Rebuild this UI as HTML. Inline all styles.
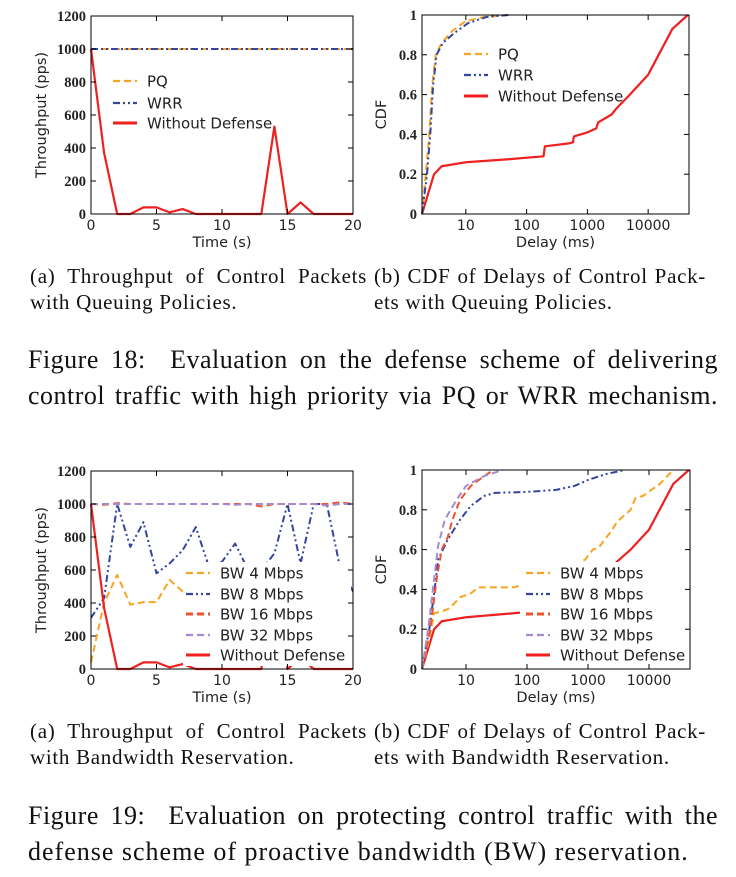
<!DOCTYPE html>
<html><head><meta charset="utf-8">
<style>
body{margin:0;background:#fff;width:736px;height:877px;overflow:hidden;position:relative;font-family:"Liberation Serif",serif;}
svg{position:absolute;left:0;top:0}
.cap{position:absolute;color:#111;font-family:"Liberation Serif",serif;white-space:nowrap}
.j{text-align:justify;text-align-last:justify;white-space:normal}
.sub{font-size:21px;line-height:26px;letter-spacing:0.7px}
.fig{font-size:26px;line-height:36px;left:28px;letter-spacing:0.5px}
</style></head><body>
<svg id="chart" width="736" height="877" xmlns="http://www.w3.org/2000/svg"></svg>
<div class="cap sub" style="left:30px;top:263px;width:337px"><div class="j">(a) Throughput of Control Packets</div><div>with Queuing Policies.</div></div>
<div class="cap sub" style="left:374px;top:263px;width:332px"><div class="j">(b) CDF of Delays of Control Pack-</div><div>ets with Queuing Policies.</div></div>
<div class="cap fig" style="top:342px;width:690px"><div class="j">Figure 18: &nbsp;Evaluation on the defense scheme of delivering</div><div class="j">control traffic with high priority via PQ or WRR mechanism.</div></div>
<div class="cap sub" style="left:30px;top:718px;width:337px"><div class="j">(a) Throughput of Control Packets</div><div>with Bandwidth Reservation.</div></div>
<div class="cap sub" style="left:374px;top:718px;width:332px"><div class="j">(b) CDF of Delays of Control Pack-</div><div>ets with Bandwidth Reservation.</div></div>
<div class="cap fig" style="top:798px;width:690px"><div class="j">Figure 19: &nbsp;Evaluation on protecting control traffic with the</div><div style="letter-spacing:1px">defense scheme of proactive bandwidth (BW) reservation.</div></div>
<script>
const timeSteps=[0,1,2,3,4,5,6,7,8,9,10,11,12,13,14,15,16,17,18,19,20];
const tpPQ=[1000,1000,1000,1000,1000,1000,1000,1000,1000,1000,1000,1000,1000,1000,1000,1000,1000,1000,1000,1000,1000];
const tpWRR=[1000,1000,1000,1000,1000,1000,1000,1000,1000,1000,1000,1000,1000,1000,1000,1000,1000,1000,1000,1000,1000];
const tpNoDef=[1000,370,0,0,40,40,10,30,0,0,0,0,0,0,530,0,70,0,0,0,0];
const tpBW4=[40,400,570,390,405,405,540,470,480,500,500,500,500,500,500,520,520,540,560,600,520];
const tpBW8=[310,430,1000,740,890,580,640,720,860,620,650,760,600,600,700,1000,640,1000,1000,620,470];
const tpBW16=[1000,995,1005,1000,1000,1000,1000,1000,1000,1000,1000,1000,1000,985,1000,1000,1000,1000,1000,1010,1000];
const tpBW32=[1000,1000,1000,1000,1000,1000,1000,1000,1000,1000,1000,995,1000,1000,1000,1000,1000,1000,990,1000,1000];

const cdfPQx=[1.9,2.2,2.5,2.8,3.2,4,6,10,20,50];
const cdfPQy=[0,0.2,0.4,0.65,0.8,0.86,0.92,0.97,0.99,1];
const cdfWRRx=[1.9,2.3,2.6,2.9,3.3,4.2,6.5,11,22,50];
const cdfWRRy=[0,0.2,0.4,0.65,0.8,0.86,0.91,0.96,0.99,1];
const cdfNDx=[1.9,3,4,10,50,190,200,500,580,600,1000,1400,1500,2500,3000,5000,10000,25000,45000];
const cdfNDy=[0,0.2,0.24,0.26,0.275,0.29,0.34,0.355,0.36,0.39,0.41,0.43,0.46,0.5,0.53,0.6,0.7,0.93,1];

const cdfBW4x=[1.9,2.5,3,4,5,6,8,12,16,60,300,900,1200,1500,2500,3000,5000,6000,8000,15000,25000];
const cdfBW4y=[0,0.15,0.28,0.29,0.3,0.32,0.36,0.38,0.41,0.41,0.47,0.55,0.6,0.61,0.7,0.74,0.8,0.86,0.87,0.93,1];
const cdfBW8x=[1.9,2.5,3,3.5,5,8,12,20,30,100,300,600,1000,2000,4000];
const cdfBW8y=[0,0.2,0.38,0.55,0.65,0.75,0.82,0.87,0.885,0.89,0.9,0.92,0.95,0.98,1];
const cdfBW16x=[1.9,2.6,3.3,4,5,6,8,12,20,28];
const cdfBW16y=[0,0.2,0.45,0.6,0.66,0.75,0.85,0.92,0.97,1];
const cdfBW32x=[1.9,2.4,3,3.5,4.5,7,10,20,40];
const cdfBW32y=[0,0.2,0.45,0.62,0.75,0.85,0.92,0.97,1];
const cdfND2x=[1.9,3,4,10,60,300,1000,3000,5000,10000,25000,45000];
const cdfND2y=[0,0.2,0.24,0.26,0.28,0.3,0.4,0.54,0.6,0.7,0.93,1];

const tpTicksY=[0,200,400,600,800,1000,1200];
const tpTicksX=[0,5,10,15,20];
const cdfTicksY=[0,0.2,0.4,0.6,0.8,1];
const cdfTickLabelsY=["0","0.2","0.4","0.6","0.8","1"];
const cdfTicksX=[10,100,1000,10000];

const svg=document.getElementById('chart');
const NS='http://www.w3.org/2000/svg';
function mk(tag,attrs,parent){const e=document.createElementNS(NS,tag);for(const k in attrs)e.setAttribute(k,attrs[k]);(parent||svg).appendChild(e);return e;}
const ORANGE='#f7a520',BLUE='#3345a0',RED='#ee2020',ORED='#f0522a',PURPLE='#a68ad0';
const DASH='7,4',DASHDOT='7,3,2,3,2,3';

function makeGroup(name){
  const g=mk('g',{});
  
  
  return g;
}
function plot(g,xs,ys,sx,sy,color,dash,w,name){
  let d='';xs.forEach((x,i)=>{d+=(i?'L':'M')+sx(x).toFixed(2)+','+sy(ys[i]).toFixed(2);});
  const p=mk('path',{d:d,fill:'none',stroke:color,'stroke-width':w,'stroke-dasharray':dash||'none','stroke-linejoin':'round'},g);
  
  
}
function frame(g,x0,x1,y0,y1,sx,sy,xt,xl,yt,yl,xtitle,ytitle){
  yt.forEach((v,i)=>{const y=sy(v);
    mk('line',{x1:x0,x2:x0+5,y1:y,y2:y,stroke:'#000'},g);mk('line',{x1:x1,x2:x1-5,y1:y,y2:y,stroke:'#000'},g);
    const t=mk('text',{x:x0-5,y:y+5,'text-anchor':'end','font-size':14.5,'font-family':'Liberation Serif, serif','font-weight':'bold',fill:'#222'},g);t.textContent=yl[i];
    
    });
  xt.forEach((v,i)=>{const x=sx(v);
    mk('line',{x1:x,x2:x,y1:y1,y2:y1-5,stroke:'#000'},g);mk('line',{x1:x,x2:x,y1:y0,y2:y0+5,stroke:'#000'},g);
    const t=mk('text',{x:x,y:y1+16,'text-anchor':'middle','font-size':14,'font-family':'DejaVu Sans, sans-serif',fill:'#222'},g);t.textContent=xl[i];
    
    });
  mk('rect',{x:x0,y:y0,width:x1-x0,height:y1-y0,fill:'none',stroke:'#000','stroke-width':1},g);
  const xtT=mk('text',{x:(x0+x1)/2,y:y1+33,'text-anchor':'middle','font-size':14.5,'font-family':'DejaVu Sans, sans-serif',fill:'#222'},g);xtT.textContent=xtitle;
  
  
  const cx=x0-(ytitle==='CDF'?36:45),cy=(y0+y1)/2;
  const ytT=mk('text',{x:cx,y:cy,'text-anchor':'middle','font-size':14.5,'font-family':'DejaVu Sans, sans-serif',fill:'#222',transform:'rotate(-90 '+cx+' '+cy+')'},g);ytT.textContent=ytitle;
  
  
}
function legend(g,x,ys,entries,box){
  if(box){const r=mk('rect',Object.assign({fill:'#fff'},box),g);
    
    }
  entries.forEach((e,i)=>{
    const lg=mk('g',{},g);
    
    
    mk('line',{x1:x,x2:x+24,y1:ys[i],y2:ys[i],stroke:e[1],'stroke-width':e[3]||2.2,'stroke-dasharray':e[2]||'none'},lg);
    const t=mk('text',{x:x+34,y:ys[i]+5.5,'font-size':15,'font-family':'DejaVu Sans, sans-serif',fill:'#222'},lg);t.textContent=e[0];
  });
}
function lin(d0,d1,r0,r1){return v=>r0+(v-d0)/(d1-d0)*(r1-r0);}
function logs(d0,d1,r0,r1){return v=>r0+(Math.log10(v)-d0)/(d1-d0)*(r1-r0);}

(function(){const g=makeGroup('chart-18a-throughput');
 const x0=91,x1=353,y0=16,y1=214;const sx=lin(0,20,x0,x1),sy=lin(0,1200,y1,y0);
 plot(g,timeSteps,tpNoDef,sx,sy,RED,null,2.2,'line-without-defense');
 plot(g,timeSteps,tpPQ,sx,sy,ORANGE,DASH,2,'line-pq');
 plot(g,timeSteps,tpWRR,sx,sy,BLUE,DASHDOT,2,'line-wrr');
 frame(g,x0,x1,y0,y1,sx,sy,tpTicksX,tpTicksX.map(String),tpTicksY,tpTicksY.map(String),'Time (s)','Throughput (pps)');
 legend(g,113,[81,103,123],[['PQ',ORANGE,DASH],['WRR',BLUE,DASHDOT],['Without Defense',RED,null,3]]);
})();
(function(){const g=makeGroup('chart-18b-cdf');
 const x0=422,x1=689,y0=15,y1=214;const sx=logs(0.279,4.672,x0,x1),sy=lin(0,1,y1,y0);
 plot(g,cdfNDx,cdfNDy,sx,sy,RED,null,2.2,'line-without-defense');
 plot(g,cdfPQx,cdfPQy,sx,sy,ORANGE,DASH,2,'line-pq');
 plot(g,cdfWRRx,cdfWRRy,sx,sy,BLUE,DASHDOT,2,'line-wrr');
 frame(g,x0,x1,y0,y1,sx,sy,cdfTicksX,cdfTicksX.map(String),cdfTicksY,cdfTickLabelsY,'Delay (ms)','CDF');
 legend(g,464,[54,75,96],[['PQ',ORANGE,DASH],['WRR',BLUE,DASHDOT],['Without Defense',RED,null,3]]);
})();
(function(){const g=makeGroup('chart-19a-throughput');
 const x0=91,x1=353,y0=471,y1=669;const sx=lin(0,20,x0,x1),sy=lin(0,1200,y1,y0);
 plot(g,timeSteps,tpBW4,sx,sy,ORANGE,DASH,2,'line-bw4');
 plot(g,timeSteps,tpBW8,sx,sy,BLUE,DASHDOT,2,'line-bw8');
 plot(g,timeSteps,tpNoDef,sx,sy,RED,null,2.2,'line-without-defense');
 plot(g,timeSteps,tpBW16,sx,sy,ORED,DASH,2,'line-bw16');
 plot(g,timeSteps,tpBW32,sx,sy,PURPLE,DASH,2,'line-bw32');
 legend(g,186,[573,594,614,635,655],[['BW 4 Mbps',ORANGE,DASH],['BW 8 Mbps',BLUE,DASHDOT],['BW 16 Mbps',ORED,DASH,3],['BW 32 Mbps',PURPLE,DASH],['Without Defense',RED,null,3]],{x:183,y:562,width:168,height:104});
 frame(g,x0,x1,y0,y1,sx,sy,tpTicksX,tpTicksX.map(String),tpTicksY,tpTicksY.map(String),'Time (s)','Throughput (pps)');
})();
(function(){const g=makeGroup('chart-19b-cdf');
 const x0=422,x1=690,y0=470,y1=669;const sx=logs(0.279,4.672,x0,x1),sy=lin(0,1,y1,y0);
 plot(g,cdfND2x,cdfND2y,sx,sy,RED,null,2.2,'line-without-defense');
 plot(g,cdfBW4x,cdfBW4y,sx,sy,ORANGE,DASH,2,'line-bw4');
 plot(g,cdfBW8x,cdfBW8y,sx,sy,BLUE,DASHDOT,2,'line-bw8');
 plot(g,cdfBW16x,cdfBW16y,sx,sy,ORED,DASH,2,'line-bw16');
 plot(g,cdfBW32x,cdfBW32y,sx,sy,PURPLE,DASH,2,'line-bw32');
 legend(g,526,[573,594,614,635,655],[['BW 4 Mbps',ORANGE,DASH],['BW 8 Mbps',BLUE,DASHDOT],['BW 16 Mbps',ORED,DASH,3],['BW 32 Mbps',PURPLE,DASH],['Without Defense',RED,null,3]],{x:520,y:562,width:168,height:104});
 frame(g,x0,x1,y0,y1,sx,sy,cdfTicksX,cdfTicksX.map(String),cdfTicksY,cdfTickLabelsY,'Delay (ms)','CDF');
})();
</script>
</body></html>
